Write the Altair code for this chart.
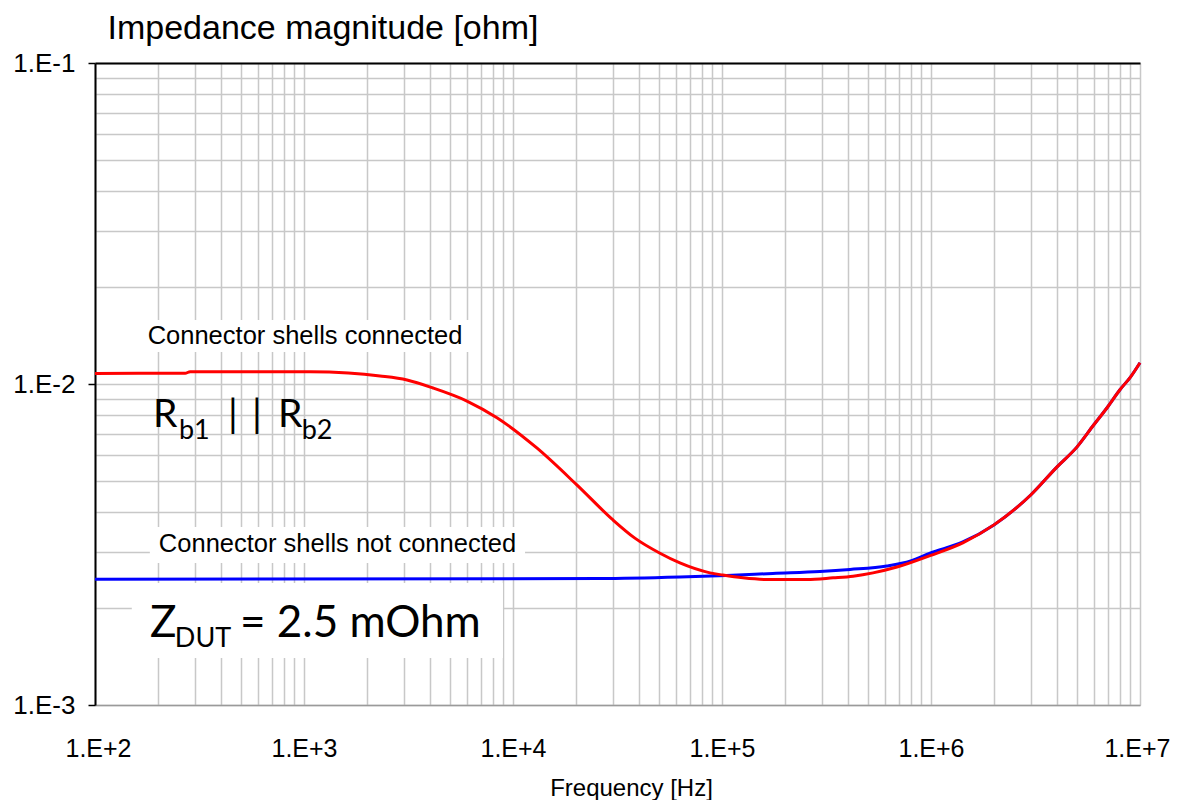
import altair as alt
import pandas as pd

# ---- data (frequency in Hz, impedance in ohm) ----
red_freq = [100, 270, 285, 1070, 1630, 2310, 3110, 4140, 6020, 8380, 13000, 20200,
            30100, 38300, 50500, 62900, 87600, 101000, 126000, 164000, 255000,
            340000, 424000, 528000, 687000, 989000, 1420000, 2000000, 3000000,
            4000000, 5000000, 6000000, 7000000, 8000000, 9000000, 10000000]
red_z = [0.01079, 0.01080, 0.01092, 0.01092, 0.01082, 0.01059, 0.01029, 0.00972,
         0.00885, 0.00785, 0.00632, 0.00485, 0.00377, 0.00331, 0.00297, 0.00277,
         0.00258, 0.00254, 0.00249, 0.00246, 0.00246, 0.00249, 0.00252, 0.00258,
         0.00269, 0.00292, 0.00320, 0.00364, 0.00451, 0.00551, 0.00637, 0.00745,
         0.00848, 0.00958, 0.01051, 0.01165]

blue_freq = [100, 26000, 62900, 105000, 175000, 294000, 410000, 615000, 800000,
             989000, 1420000, 2000000, 3000000, 4000000, 5000000, 6000000,
             7000000, 8000000, 9000000, 10000000]
blue_z = [0.002464, 0.002478, 0.002505, 0.002532, 0.00257, 0.002605, 0.002643,
          0.00271, 0.00281, 0.00297, 0.00322, 0.00364, 0.00451, 0.00551, 0.00637,
          0.00745, 0.00848, 0.00958, 0.01051, 0.01165]

# ---- axes ----
x_major = [100, 1000, 10000, 100000, 1000000, 10000000]
x_labels = ["1.E+2", "1.E+3", "1.E+4", "1.E+5", "1.E+6", "1.E+7"]
y_major = [0.001, 0.01, 0.1]
y_labels = ["1.E-3", "1.E-2", "1.E-1"]
minor_steps = [1, 2, 3, 4, 5, 6, 7, 8, 9]

x_grid = [k * d for d in x_major[:-1] for k in minor_steps] + [x_major[-1]]
y_grid = [round(k * d, 6) for d in y_major[:-1] for k in minor_steps] + [y_major[-1]]

# ---- annotations ----
box_f1 = [164, 183, 150]
box_f2 = [6800, 11420, 8950]
box_z1 = [0.01583, 0.003585, 0.002399]
box_z2 = [0.01258, 0.00277, 0.001401]

label_text = ["Connector shells connected", "Connector shells not connected"]
label_f = [1011, 1446]
label_z = [0.01332, 0.002997]

big_text = ["R", "b1", "|", "|", "R", "b2", "Z", "DUT", "= 2.5 mOhm"]
big_f = [189.5, 252, 432.9, 563.8, 750.9, 975, 183.4, 241, 494.1]
big_z = [0.007345, 0.006742, 0.007345, 0.007345, 0.007345, 0.006742,
         0.001628, 0.001516, 0.001628]
big_size = [39, 27, 39, 39, 39, 27, 44, 27, 44]


def label_expr(vals, labs):
    expr = "''"
    for v, l in zip(vals, labs):
        expr = f"(abs(datum.value / {v!r} - 1) < 1e-6 ? '{l}' : {expr})"
    return expr


def major_test(vals):
    return " || ".join(f"abs(datum.value / {v!r} - 1) < 1e-6" for v in vals)


FONT = "Liberation Sans"
xscale = alt.Scale(type="log", domain=[x_major[0], x_major[-1]], nice=False)
yscale = alt.Scale(type="log", domain=[y_major[0], y_major[-1]], nice=False)

x_axis = alt.Axis(
    values=x_grid, labelExpr=label_expr(x_major, x_labels), labelOverlap=False,
    labelFlush=True, labelFlushOffset=30, ticks=False, grid=True,
    gridColor="#c8c8c8", gridWidth=1.5,
    domainColor="#9a9a9a", domainWidth=1.5, labelFont=FONT, labelFontSize=25,
    labelColor="black", labelBaseline="alphabetic", labelPadding=51,
    title="Frequency [Hz]", titleFont=FONT, titleFontSize=24, titleFontWeight="normal",
    titleColor="black", titleX=536, titleY=90, titleBaseline="alphabetic",
    titleAlign="center", titleAnchor="start",
)
y_axis = alt.Axis(
    values=y_grid, labelExpr=label_expr(y_major, y_labels), labelOverlap=False,
    labelFlush=False, grid=True, gridColor="#c8c8c8", gridWidth=1.5,
    domainColor="black", domainWidth=2, tickColor="black", tickSize=7, tickWidth=1.5,
    tickOpacity={"condition": {"test": major_test(y_major), "value": 1}, "value": 0},
    labelFont=FONT, labelFontSize=26, labelColor="black", labelPadding=13,
    title="Impedance magnitude [ohm]", titleAngle=0, titleAlign="left",
    titleBaseline="alphabetic", titleX=12, titleY=-25, titleFont=FONT,
    titleFontSize=34, titleFontWeight="normal", titleColor="black",
    titleAnchor="start",
)
top_axis = alt.Axis(orient="top", labels=False, ticks=False, grid=False,
                    domainColor="black", domainWidth=2, title=None)

blue_df = pd.DataFrame({"f": blue_freq, "z": blue_z})
red_df = pd.DataFrame({"f": red_freq, "z": red_z})
box_df = pd.DataFrame({"f1": box_f1, "f2": box_f2, "z1": box_z1, "z2": box_z2})
lab_df = pd.DataFrame({"t": label_text, "f": label_f, "z": label_z})
big_df = pd.DataFrame({"t": big_text, "f": big_f, "z": big_z, "s": big_size})

boxes = alt.Chart(box_df).mark_rect(fill="white", stroke=None).encode(
    x=alt.X("f1:Q", scale=xscale, axis=top_axis),
    x2="f2:Q",
    y=alt.Y("z1:Q", scale=yscale, axis=y_axis),
    y2="z2:Q",
)

blue = alt.Chart(blue_df).mark_line(
    color="#0000ff", strokeWidth=3, interpolate="monotone"
).encode(
    x=alt.X("f:Q", scale=xscale, axis=x_axis),
    y=alt.Y("z:Q", scale=yscale, axis=y_axis),
)
red = alt.Chart(red_df).mark_line(
    color="#ff0000", strokeWidth=3, interpolate="monotone"
).encode(
    x=alt.X("f:Q", scale=xscale, axis=None),
    y=alt.Y("z:Q", scale=yscale, axis=y_axis),
)

labels = alt.Chart(lab_df).mark_text(
    font=FONT, fontSize=25.5, color="black", align="center", baseline="alphabetic"
).encode(
    x=alt.X("f:Q", scale=xscale, axis=None),
    y=alt.Y("z:Q", scale=yscale, axis=y_axis),
    text="t:N",
)

big = alt.Chart(big_df).mark_text(
    font="Lato", color="black", align="left", baseline="alphabetic"
).encode(
    x=alt.X("f:Q", scale=xscale, axis=None),
    y=alt.Y("z:Q", scale=yscale, axis=y_axis),
    size=alt.Size("s:Q", scale=None, legend=None),
    text="t:N",
)

chart = alt.layer(boxes, blue, red, labels, big).resolve_axis(
    x="independent"
).properties(
    width=1045, height=642,
    padding={"left": 87, "top": 55, "right": 30, "bottom": 95},
    autosize=alt.AutoSizeParams(type="none"),
).configure_view(stroke="#a6a6a6", strokeWidth=1.5).configure(background="white")

chart.save("out.html", embed_options={"renderer": "svg", "actions": False})
